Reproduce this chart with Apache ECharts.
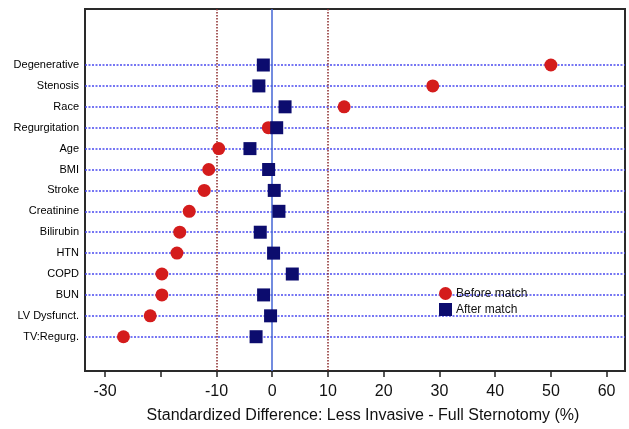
<!DOCTYPE html>
<html>
<head>
<meta charset="utf-8">
<script src="https://cdn.jsdelivr.net/npm/echarts@6/dist/echarts.min.js"></script>
<style>
html,body{margin:0;padding:0;background:#fff;}
#chart{width:629px;height:429px;}
</style>
</head>
<body>
<div id="chart"></div>
<script>
const categories = ["Degenerative","Stenosis","Race","Regurgitation","Age","BMI","Stroke","Creatinine","Bilirubin","HTN","COPD","BUN","LV Dysfunct.","TV:Regurg."];
const beforeMatch = [50.0, 28.8, 12.9, -0.7, -9.6, -11.4, -12.2, -14.9, -16.6, -17.1, -19.8, -19.8, -21.9, -26.7];
const afterMatch = [-1.6, -2.4, 2.3, 0.8, -4.0, -0.65, 0.36, 1.2, -2.15, 0.24, 3.6, -1.55, -0.3, -2.9];
const xTicks = [-30, -20, -10, 0, 10, 20, 30, 40, 50, 60];
const xLabels = [-30, -10, 0, 10, 20, 30, 40, 50, 60];
const refLinesRed = [-10, 10];
const refLineZero = 0;

const chart = echarts.init(document.getElementById('chart'), null, {renderer: 'canvas'});
const font = 'Liberation Sans, Arial, sans-serif';

const catIdx = categories.map((c, i) => i);

const option = {
  animation: false,
  backgroundColor: '#fff',
  textStyle: {fontFamily: font},
  grid: {
    left: 85, right: 4, top: 9, bottom: 58,
    outerBoundsMode: 'none',
    containLabel: false,
    show: true, borderColor: '#2a2a2a', borderWidth: 2, backgroundColor: 'transparent'
  },
  legend: {
    orient: 'vertical',
    left: 434, top: 282,
    itemWidth: 13, itemHeight: 13, itemGap: 3,
    textStyle: {fontSize: 12, color: '#111', fontFamily: font, padding: [0, 0, 0, -1]},
    data: [
      {name: 'Before match', icon: 'circle'},
      {name: 'After match', icon: 'rect'}
    ]
  },
  xAxis: {
    type: 'value',
    min: -33.6, max: 63.3,
    position: 'bottom',
    splitLine: {show: false},
    axisLine: {show: false, onZero: false},
    axisTick: {show: true, customValues: xTicks, length: 6, inside: false, lineStyle: {color: '#222', width: 1.5}},
    axisLabel: {customValues: xLabels, fontSize: 16, color: '#111', margin: 13, fontFamily: font},
    name: 'Standardized Difference: Less Invasive - Full Sternotomy (%)',
    nameLocation: 'middle',
    nameGap: 37,
    nameTextStyle: {fontSize: 16, color: '#111', fontFamily: font, padding: [0, 0, 0, 16]}
  },
  yAxis: {
    type: 'value',
    inverse: true,
    min: -2.68, max: 14.64,
    splitLine: {show: false},
    axisLine: {show: false, onZero: false},
    axisTick: {show: false, customValues: catIdx},
    axisLabel: {
      customValues: catIdx,
      formatter: v => categories[Math.round(v)] || '',
      fontSize: 11, color: '#000', margin: 6, fontFamily: font
    }
  },
  series: [
    {
      name: 'refs',
      type: 'scatter',
      data: [],
      z: 1,
      silent: true,
      markLine: {
        silent: true,
        z: 1,
        symbol: ['none', 'none'],
        animation: false,
        label: {show: false},
        data: [
          ...catIdx.map(i => ({yAxis: i, lineStyle: {color: '#4a4af0', type: [2, 1.5], width: 1.5}})),
          ...refLinesRed.map(v => ({xAxis: v, lineStyle: {color: '#8a2a2a', type: [1.5, 1.5], width: 1.5}})),
          {xAxis: refLineZero, lineStyle: {color: '#4466d4', type: 'solid', width: 1.5}}
        ]
      }
    },
    {
      name: 'Before match',
      type: 'scatter',
      symbol: 'circle',
      symbolSize: 13,
      z: 10,
      itemStyle: {color: '#d41c1c', opacity: 1},
      data: beforeMatch.map((v, i) => [v, i])
    },
    {
      name: 'After match',
      type: 'scatter',
      symbol: 'rect',
      symbolSize: 13,
      z: 11,
      itemStyle: {color: '#0c0c6e', opacity: 1},
      data: afterMatch.map((v, i) => [v, i])
    }
  ]
};
chart.setOption(option);
</script>
</body>
</html>
